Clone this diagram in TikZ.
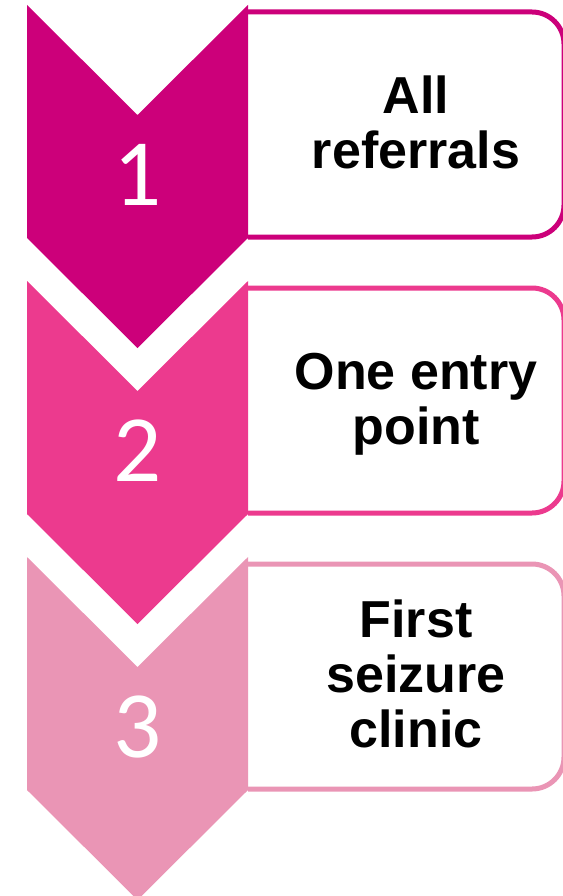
\documentclass[tikz,border=0pt]{standalone}
\usepackage{fontspec}
\setmainfont{Liberation Sans}
\newfontfamily\numfont{Carlito}
\usetikzlibrary{positioning}
\definecolor{stepone}{RGB}{204,0,122}
\definecolor{steptwo}{RGB}{236,58,142}
\definecolor{stepthree}{RGB}{234,149,181}

\begin{document}
\begin{tikzpicture}[x=1pt, y=-1pt,
  chevron/.style={fill=#1, draw=none},
  frame/.style={draw=#1, line width=5pt, fill=white, rounded corners=32pt},
  num/.style={text=white, font=\numfont\fontsize{95}{95}\selectfont, inner sep=0pt},
  label/.style={align=center, font=\bfseries\fontsize{52}{55}\selectfont, inner sep=0pt}]
\useasboundingbox (0,0) rectangle (562,896);
% boxes
\draw[frame=stepone] (248,12) -- (564,12) -- (564,237) -- (248,237);
\draw[frame=steptwo] (248,288) -- (564,288) -- (564,513) -- (248,513);
\draw[frame=stepthree] (248,564) -- (564,564) -- (564,789) -- (248,789);
% chevrons
\fill[chevron=stepone] (27,5) -- (137.5,115) -- (248,5) -- (248,238) -- (137.5,348) -- (27,238) -- cycle;
\fill[chevron=steptwo] (27,281) -- (137.5,391) -- (248,281) -- (248,514) -- (137.5,624) -- (27,514) -- cycle;
\fill[chevron=stepthree] (27,557) -- (137.5,667) -- (248,557) -- (248,790) -- (137.5,900) -- (27,790) -- cycle;
% numbers
\node[num] (one) at (138,175) {1};
\node[num] (two) at (138,451) {2};
\node[num] (three) at (138,727) {3};
% texts
\node[label] (referrals) at (416,122) {All\\referrals};
\node[label] (entry) at (416,404) {One entry\\point};
\node[label] (clinic) at (416,674) {First\\seizure\\clinic};
\end{tikzpicture}
\end{document}
